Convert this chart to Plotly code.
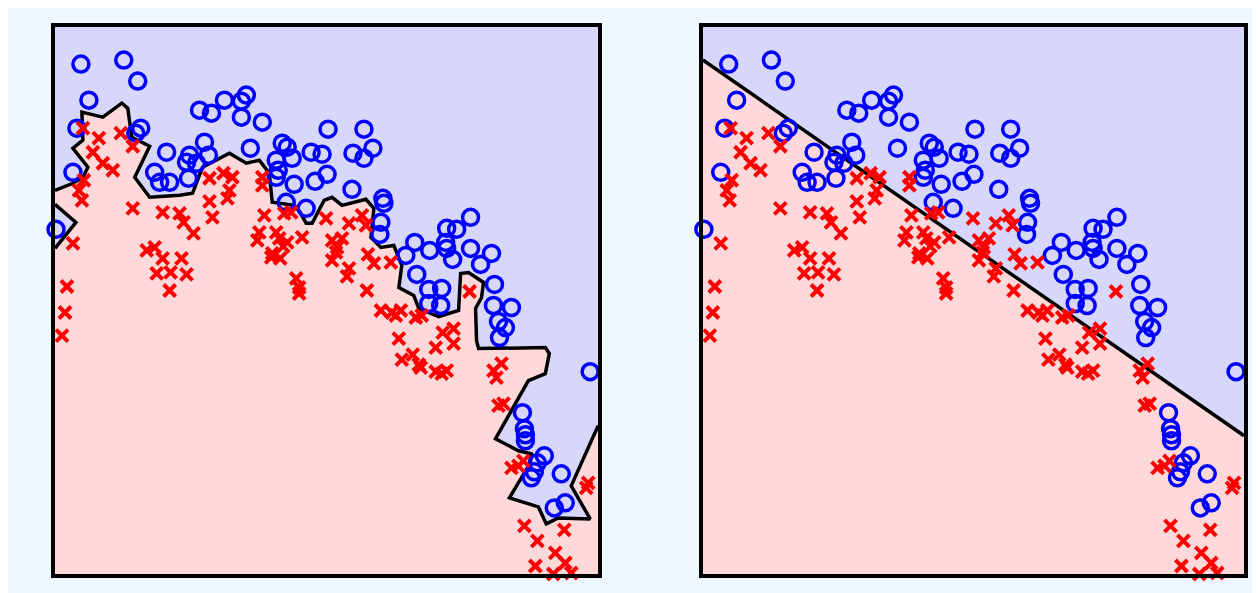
import plotly.graph_objects as go
from plotly.subplots import make_subplots

# ---- data (arbitrary units, x in [0,545], y in [0,546]) ----
blue_x = [26, 69, 83, 34, 22, 86, 81, 18, 145, 157, 170, 192, 187, 187, 208, 196, 150, 154, 112, 100,
          105, 115, 135, 132, 142, 134, 274, 310, 299, 310, 319, 228, 233, 238, 222, 224, 222, 240, 257, 268,
          273, 261, 232, 252, 298, 329, 330, 327, 326, 417, 393, 403, 361, 352, 376, 392, 393, 399, 417, 427,
          438, 363, 375, 388, 375, 387, 441, 440, 458, 445, 452, 446, 537, 469, 471, 472, 472, 491, 484, 478,
          508, 501, 512, 1, 481]
blue_y = [509, 513, 492, 473, 445, 445, 440, 401, 463, 460, 473, 478, 472, 456, 451, 425, 431, 418, 421, 401,
          391, 391, 418, 411, 410, 395, 444, 444, 420, 415, 425, 430, 426, 415, 413, 403, 396, 389, 421, 419,
          399, 392, 371, 365, 384, 375, 370, 351, 339, 356, 345, 344, 331, 318, 323, 331, 325, 314, 325, 309,
          320, 299, 284, 285, 270, 268, 289, 268, 266, 252, 246, 236, 202, 161, 145, 139, 133, 118, 111, 96,
          100, 66, 71, 344, 102]

red_x = [28, 44, 66, 78, 38, 48, 58, 29, 24, 155, 169, 178, 175, 27, 78, 108, 125, 129, 139, 155,
         173, 158, 18, 92, 100, 108, 127, 102, 116, 132, 115, 12, 10, 7, 208, 208, 210, 230, 237, 272,
         205, 203, 222, 225, 233, 248, 229, 218, 295, 308, 312, 278, 288, 283, 314, 217, 226, 282, 278, 295,
         293, 320, 337, 242, 245, 245, 313, 327, 338, 342, 347, 362, 368, 345, 382, 389, 348, 359, 416, 400,
         400, 365, 448, 367, 382, 393, 388, 440, 443, 445, 450, 458, 465, 470, 533, 535, 471, 484, 511, 502,
         512, 482, 500, 518]
red_y = [445, 435, 440, 427, 421, 410, 403, 393, 383, 395, 400, 396, 383, 373, 365, 361, 360, 351, 340, 372,
         375, 356, 330, 323, 326, 315, 315, 300, 301, 299, 283, 287, 261, 238, 396, 388, 358, 360, 361, 355,
         341, 333, 341, 335, 331, 336, 327, 320, 350, 358, 348, 333, 335, 326, 319, 316, 315, 321, 313, 305,
         297, 310, 311, 295, 286, 280, 283, 263, 261, 258, 263, 256, 258, 235, 226, 241, 214, 219, 282, 245,
         230, 209, 210, 206, 202, 203, 200, 203, 196, 168, 170, 106, 108, 113, 86, 91, 48, 33, 44, 21,
         11, 8, 0, 1]

# k-NN style decision boundary (left panel)
knn_bx = [0, 18, 28, 33, 18, 28, 27, 48, 67, 73, 77, 95, 80, 95, 125, 138, 148, 175, 192, 205,
          215, 218, 240, 246, 252, 258, 270, 278, 288, 312, 320, 317, 327, 340, 348, 345, 360, 365, 385, 405,
          407, 415, 430, 428, 422, 423, 425, 492, 496, 492, 475, 442, 465, 478, 477, 456, 485, 493, 505, 537,
          518, 545]
knn_by = [383, 390, 396, 406, 425, 433, 461, 456, 470, 465, 436, 427, 396, 376, 378, 380, 406, 420, 410, 413,
          400, 371, 368, 361, 350, 350, 373, 376, 368, 374, 365, 336, 326, 328, 308, 286, 278, 265, 257, 263,
          300, 301, 291, 276, 265, 233, 225, 226, 220, 200, 193, 135, 123, 120, 111, 76, 67, 50, 56, 55,
          88, 148]
knn_island_x = [0, 21, 0]
knn_island_y = [369, 351, 325]

# linear decision boundary (right panel)
lin_bx = [0, 545]
lin_by = [513, 138]

XMAX, YMAX = 545, 546
PINK = "#ffd9d9"
LAV = "#d7d7fb"

fig = make_subplots(rows=1, cols=2, horizontal_spacing=0.0882)


def add_panel(col, bx, by, islands):
    # blue region above the boundary
    fig.add_trace(go.Scatter(x=bx + [XMAX, 0], y=by + [YMAX, YMAX], fill="toself", fillcolor=LAV,
                             mode="none", hoverinfo="skip", showlegend=False), row=1, col=col)
    for ix, iy in islands:
        fig.add_trace(go.Scatter(x=ix, y=iy, fill="toself", fillcolor=LAV, mode="none",
                                 hoverinfo="skip", showlegend=False), row=1, col=col)
    fig.add_trace(go.Scatter(x=bx, y=by, mode="lines", line=dict(color="black", width=3.5),
                             hoverinfo="skip", showlegend=False, cliponaxis=False), row=1, col=col)
    for ix, iy in islands:
        fig.add_trace(go.Scatter(x=ix, y=iy, mode="lines", line=dict(color="black", width=3.5),
                                 hoverinfo="skip", showlegend=False, cliponaxis=False), row=1, col=col)
    fig.add_trace(go.Scatter(x=blue_x, y=blue_y, mode="markers",
                             marker=dict(symbol="circle-open", size=16, color="#0000ff",
                                         line=dict(width=3.5, color="#0000ff")),
                             showlegend=False, cliponaxis=False), row=1, col=col)
    fig.add_trace(go.Scatter(x=red_x, y=red_y, mode="markers",
                             marker=dict(symbol="x-thin", size=12, color="#ff0000",
                                         line=dict(width=4, color="#ff0000")),
                             showlegend=False, cliponaxis=False), row=1, col=col)


add_panel(1, knn_bx, knn_by, [(knn_island_x, knn_island_y)])
add_panel(2, lin_bx, lin_by, [])

axis_style = dict(showgrid=False, zeroline=False, showticklabels=False, ticks="",
                  showline=True, mirror=True, linewidth=3.5, linecolor="black")
fig.update_xaxes(range=[0, XMAX], **axis_style)
fig.update_yaxes(range=[0, YMAX], **axis_style)
fig.update_xaxes(domain=[0, 0.4568], row=1, col=1)
fig.update_xaxes(domain=[0.5449, 1.0], row=1, col=2)

fig.update_layout(width=1252, height=588,
                  margin=dict(l=47, r=12, t=19, b=22),
                  paper_bgcolor="#f0f8ff", plot_bgcolor=PINK)

fig.write_html("out.html")
